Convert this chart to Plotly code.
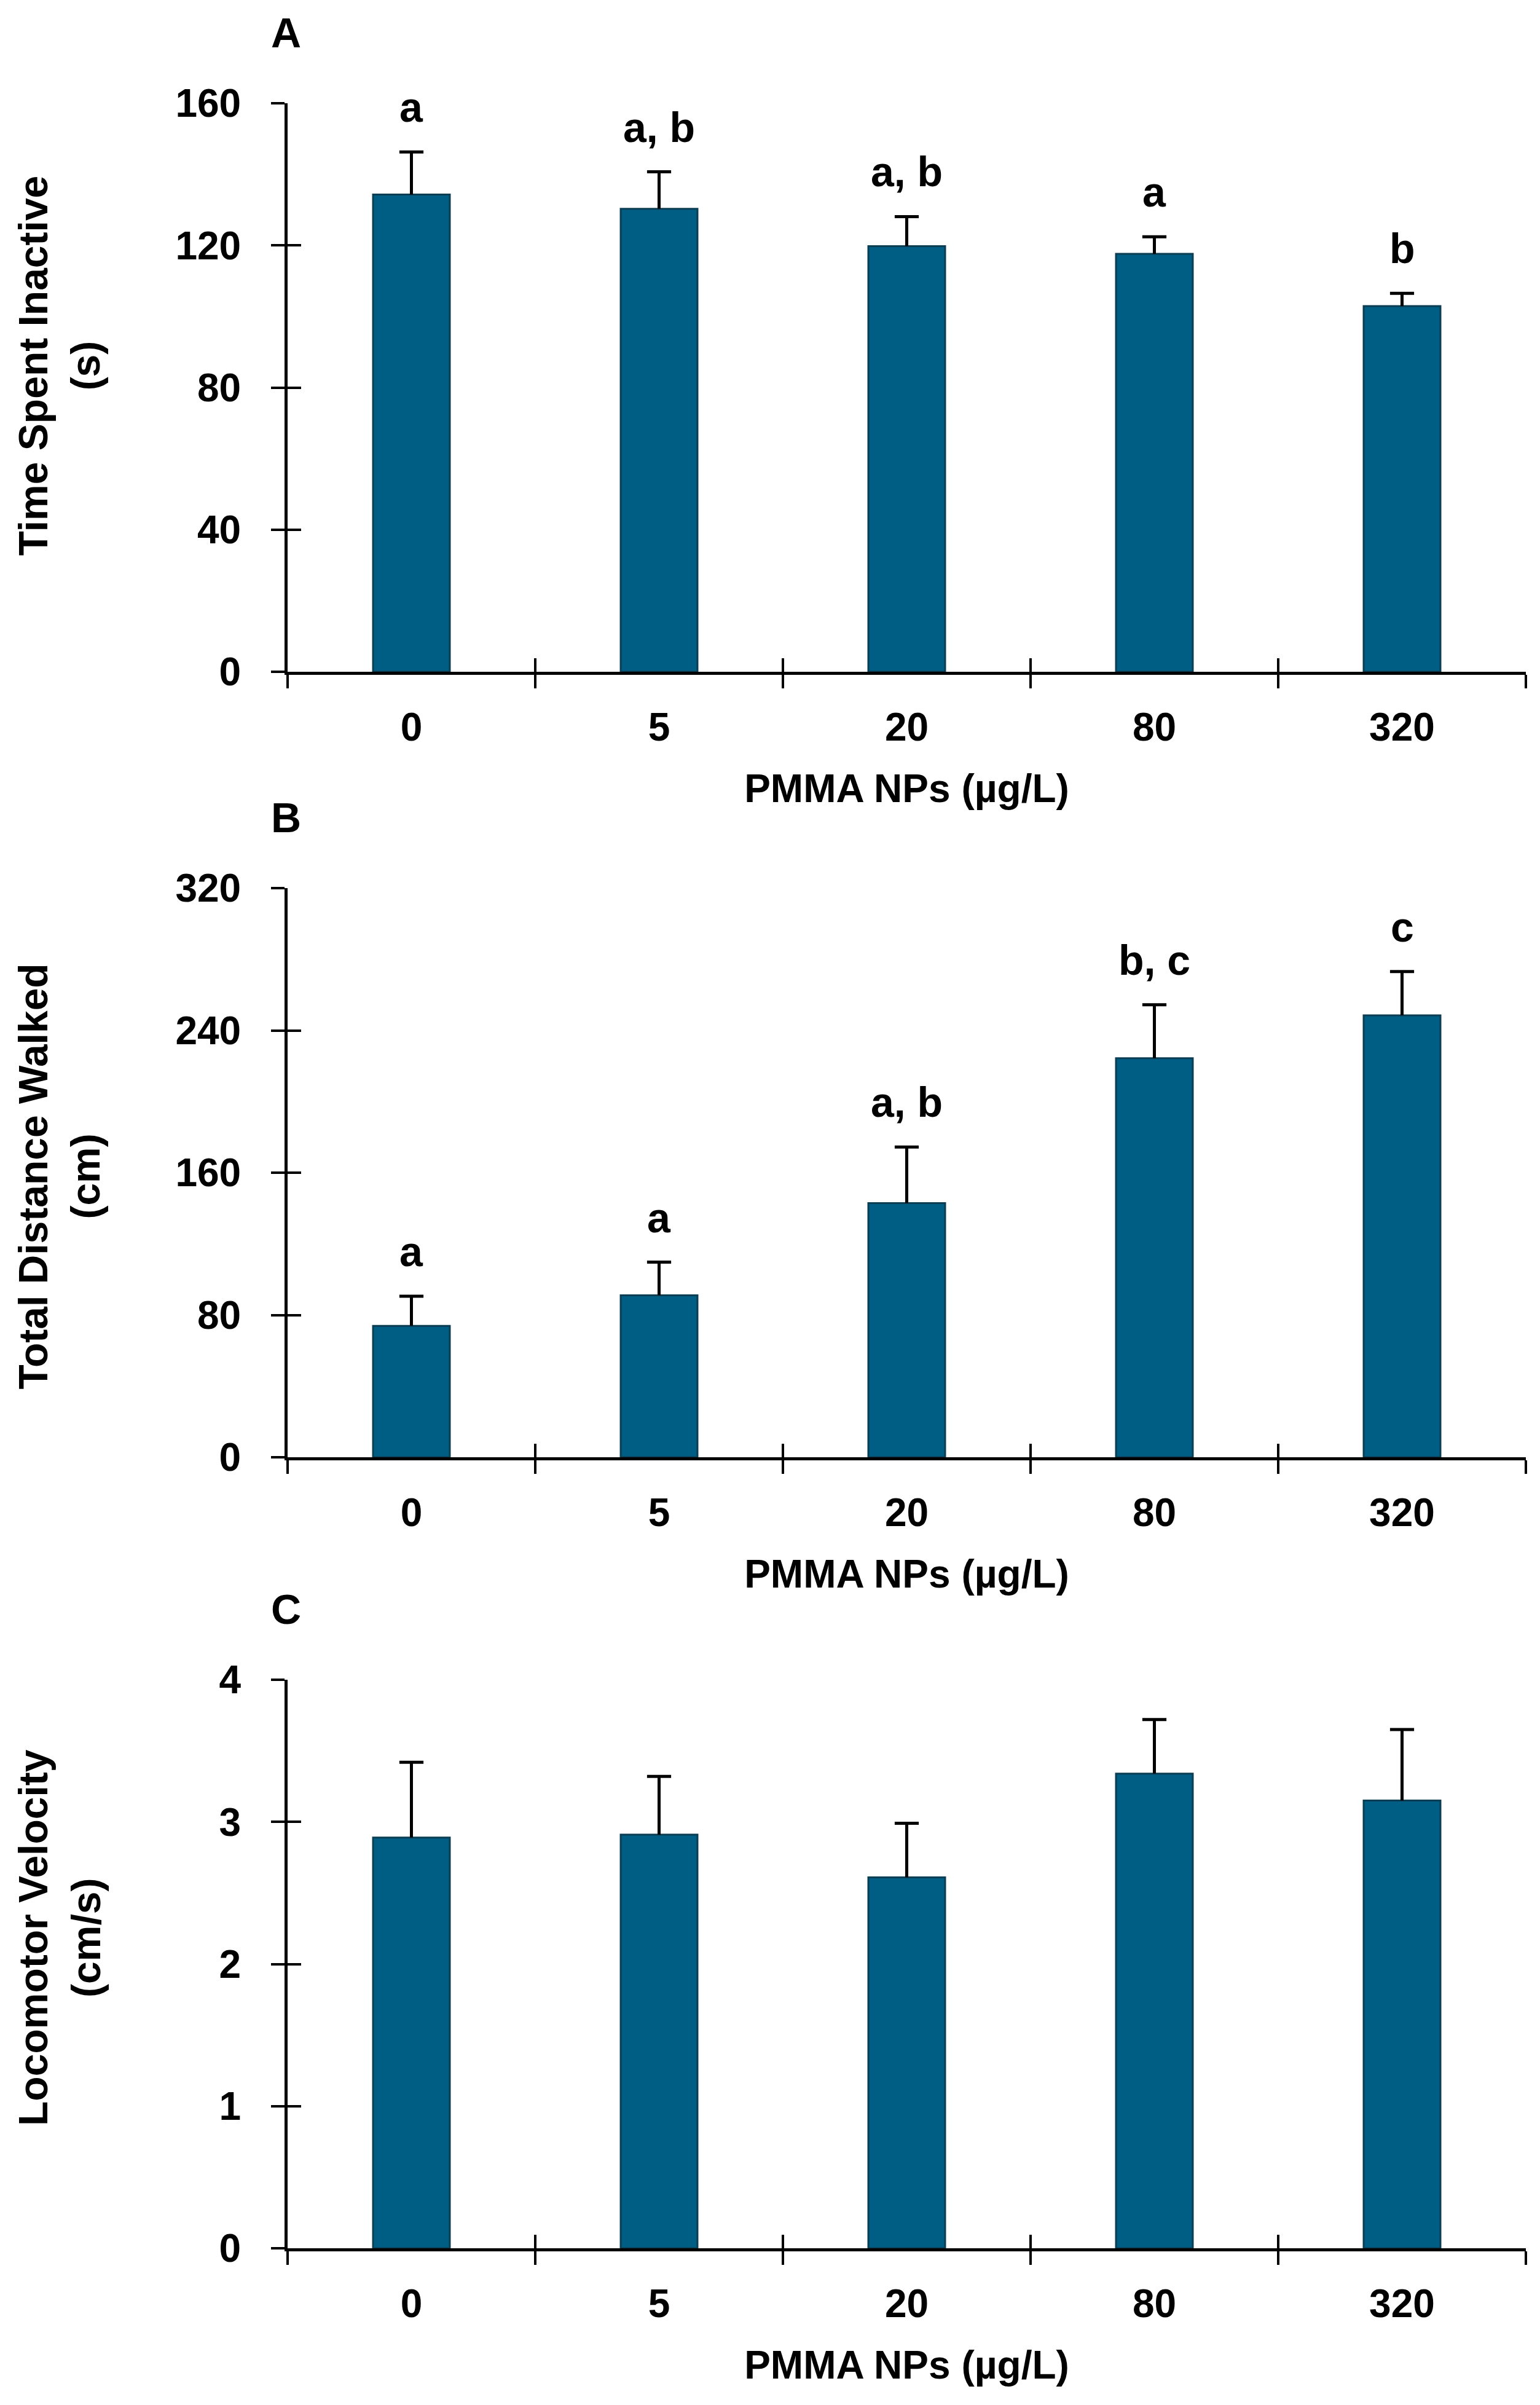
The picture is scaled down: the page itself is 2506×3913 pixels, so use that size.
import plotly.graph_objects as go

doses = ["0", "5", "20", "80", "320"]

inactive_mean = [134.3, 130.3, 119.8, 117.6, 102.9]
inactive_err = [12.0, 10.4, 8.3, 4.8, 3.6]
inactive_sig = ["a", "a, b", "a, b", "a", "b"]

distance_mean = [73.9, 91.1, 142.9, 224.4, 248.5]
distance_err = [16.6, 18.6, 31.5, 30.0, 24.6]
distance_sig = ["a", "a", "a, b", "b, c", "c"]

velocity_mean = [2.89, 2.91, 2.61, 3.34, 3.15]
velocity_err = [0.53, 0.41, 0.38, 0.38, 0.50]

panels = [
    dict(letter="A", title="Time Spent Inactive<br>(s)", mean=inactive_mean, err=inactive_err,
         sig=inactive_sig, yrange=[0, 160], dtick=40, title_y=0.538),
    dict(letter="B", title="Total Distance Walked<br>(cm)", mean=distance_mean, err=distance_err,
         sig=distance_sig, yrange=[0, 320], dtick=80, title_y=0.493),
    dict(letter="C", title="Locomotor Velocity<br>(cm/s)", mean=velocity_mean, err=velocity_err,
         sig=None, yrange=[0, 4], dtick=1, title_y=0.546),
]

W, H = 2506, 3913
BAR = "#005E84"
EDGE = "#0B3D53"
FONT = "Liberation Sans, Arial, sans-serif"
OFF = 8  # page body margin

# plot areas in page pixels (top, bottom)
x_px = (468 - OFF, 2483 - OFF)
y_px = [(168 - OFF, 1093 - OFF), (1445 - OFF, 2371 - OFF), (2733 - OFF, 3658 - OFF)]

fig = go.Figure()
layout = dict(
    width=W, height=H,
    margin=dict(l=0, r=0, t=0, b=0, autoexpand=False),
    paper_bgcolor="white", plot_bgcolor="white",
    showlegend=False,
    font=dict(family=FONT, size=64, color="black"),
    annotations=[],
)

xdom = [x_px[0] / W, x_px[1] / W]
n = len(doses)
for i, p in enumerate(panels):
    k = i + 1
    ov = k + 3
    top, bot = y_px[i]
    ydom = [1 - bot / H, 1 - top / H]
    xa = "x" if k == 1 else f"x{k}"
    ya = "y" if k == 1 else f"y{k}"
    tops = [m + e for m, e in zip(p["mean"], p["err"])]

    fig.add_trace(go.Bar(
        x=doses, y=p["mean"], xaxis=xa, yaxis=ya, width=0.31,
        marker=dict(color=BAR, line=dict(color=EDGE, width=3)),
        error_y=dict(type="data", symmetric=False, array=p["err"], arrayminus=[0] * n,
                     color="black", thickness=5, width=0),
        hoverinfo="x+y",
    ))
    # error bar caps, drawn on the overlay axes (which carry the inner half of the ticks)
    fig.add_trace(go.Scatter(
        x=doses, y=tops, xaxis=f"x{ov}", yaxis=f"y{ov}", mode="markers",
        marker=dict(symbol="line-ew", size=28, line=dict(color="black", width=5)),
        hoverinfo="skip",
    ))

    axis_common = dict(showline=True, linecolor="black", linewidth=5, ticklen=22,
                       tickwidth=4, tickcolor="black", showgrid=False, zeroline=False,
                       automargin=False)
    layout[f"xaxis{'' if k == 1 else k}"] = dict(
        domain=xdom, anchor=ya, type="category", categoryarray=doses,
        range=[-0.5, n - 0.5], ticks="outside", tickson="boundaries", ticklabelstandoff=30,
        tickfont=dict(size=64, family=FONT, weight="bold"),
        title=dict(text="PMMA NPs (µg/L)", standoff=44,
                   font=dict(size=64, family=FONT, weight="bold")),
        **axis_common)
    layout[f"yaxis{'' if k == 1 else k}"] = dict(
        domain=ydom, anchor=xa, range=p["yrange"], dtick=p["dtick"], tick0=0,
        ticks="outside", ticklabelstandoff=36,
        tickfont=dict(size=64, family=FONT, weight="bold"),
        **axis_common)
    layout[f"xaxis{ov}"] = dict(
        domain=xdom, anchor=f"y{ov}", overlaying=xa, type="category", categoryarray=doses,
        range=[-0.5, n - 0.5], tickson="boundaries", showticklabels=False,
        ticks="inside", **axis_common)
    layout[f"yaxis{ov}"] = dict(
        domain=ydom, anchor=f"x{ov}", overlaying=ya, range=p["yrange"], dtick=p["dtick"],
        tick0=0, showticklabels=False, ticks="inside", **axis_common)

    # panel letter
    layout["annotations"].append(dict(
        text=p["letter"], xref="paper", yref="paper", x=(465 - OFF) / W,
        y=1 - (top - 115) / H, xanchor="center", yanchor="middle", showarrow=False,
        font=dict(size=68, family=FONT, weight="bold")))
    # y axis title
    layout["annotations"].append(dict(
        text=p["title"], xref="paper", yref=f"{ya} domain", x=(97 - OFF) / W, y=p["title_y"],
        xanchor="center", yanchor="middle", textangle=-90, showarrow=False,
        font=dict(size=66, family=FONT, weight="bold")))
    # significance letters
    if p["sig"]:
        for j, (t, s) in enumerate(zip(tops, p["sig"])):
            layout["annotations"].append(dict(
                text=s, xref=xa, yref=ya, x=j, y=t, xanchor="center", yanchor="bottom",
                yshift=33, showarrow=False, font=dict(size=68, family=FONT, weight="bold")))

fig.update_layout(**layout)
fig.write_html("out.html")
